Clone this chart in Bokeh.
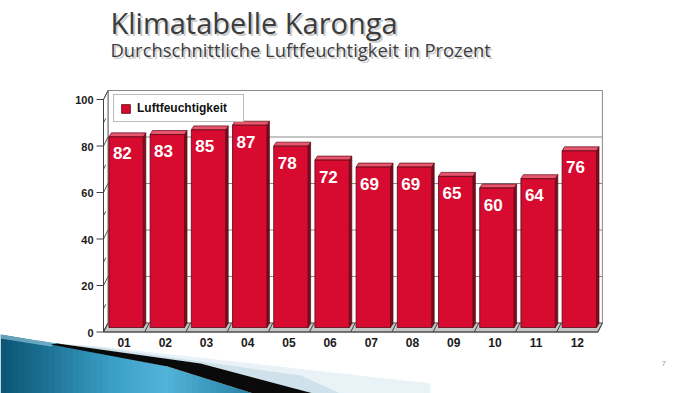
from bokeh.plotting import figure
from bokeh.models import Range1d, Label, Legend, LegendItem
from bokeh.embed import file_html
from bokeh.resources import INLINE
from bokeh.core.properties import value

# ---------------- data ----------------
months = ["01", "02", "03", "04", "05", "06", "07", "08", "09", "10", "11", "12"]
humidity = [82, 83, 85, 87, 78, 72, 69, 69, 65, 60, 64, 76]
y_ticks = [0, 20, 40, 60, 80, 100]
y_minor = [10, 30, 50, 70, 90]
title_text = "Klimatabelle Karonga"
subtitle_text = "Durchschnittliche Luftfeuchtigkeit in Prozent"
series_name = "Luftfeuchtigkeit"
page_number = "7"

# ---------------- layout / style ----------------
W, H = 699, 393
PX_X = 41.2      # pixels per category
PX_Y = 2.325     # pixels per percent
ORIGIN_X = 103.0 # px of category edge 0
ORIGIN_Y = 331.5 # px (from top) of value 0

def dx(px):
    return px / PX_X

def dy(px):
    return px / PX_Y

def pg(x, y):
    """page pixel -> data coordinates (for decorations only)"""
    return ((x - ORIGIN_X) / PX_X, (ORIGIN_Y - y) / PX_Y)

DEPTH_X, DEPTH_Y = dx(4.5), dy(9)          # full 3D depth
BAR_OFF_X, BAR_OFF_Y = dx(2), dy(4.5)      # bar front plane offset
BAR_DX, BAR_DY = dx(2.5), dy(4)            # bar depth
BAR_W = 0.835

RED = "#d70a30"
RED_TOP = "#e8566e"
RED_SIDE = "#7c0c1e"
EDGE = "#5a0814"
WALL = "#8a8a8a"
FONT = "Liberation Sans"

p = figure(width=W, height=H, output_backend="svg", toolbar_location=None,
           x_range=Range1d(-ORIGIN_X / PX_X, (W - ORIGIN_X) / PX_X),
           y_range=Range1d(-(H - ORIGIN_Y) / PX_Y, ORIGIN_Y / PX_Y),
           x_axis_location=None, y_axis_location=None,
           min_border=0, background_fill_color="white", border_fill_color="white")
p.grid.visible = False
p.outline_line_color = None

n = len(months)

# ---------------- decorative swoosh (bottom-left) ----------------
def poly(points):
    xs, ys = zip(*[pg(*pt) for pt in points])
    return list(xs), list(ys)

def interp(x, pts):
    for (x0, y0), (x1, y1) in zip(pts[:-1], pts[1:]):
        if x0 <= x <= x1:
            return y0 + (y1 - y0) * (x - x0) / (x1 - x0)
    return pts[-1][1]

def mix(c0, c1, t):
    a = [int(c0[i:i + 2], 16) for i in (1, 3, 5)]
    b = [int(c1[i:i + 2], 16) for i in (1, 3, 5)]
    return "#%02x%02x%02x" % tuple(round(u + (v - u) * t) for u, v in zip(a, b))

# pale wedge above the black stripe
for pts, col in [
    ([(57, 343), (100, 346), (430, 383), (430, 393), (313, 393), (200, 363)], "#e9f2f6"),
    ([(57, 343), (100, 347), (300, 375), (340, 393), (313, 393), (200, 363)], "#cfe2eb"),
]:
    xs, ys = poly(pts)
    p.patch(xs, ys, fill_color=col, line_color=None)

# blue area, drawn as thin vertical strips to imitate the gradient
blue_top = [(0, 334), (30, 339), (57, 343), (167, 366), (253, 393)]
stops = [(0, "#0b5573"), (40, "#1a6d90"), (110, "#3a9ec5"), (165, "#52b3d8"), (253, "#2680a6")]
step = 6
xa = 0
while xa < 253:
    xb = min(xa + step, 253)
    xm = (xa + xb) / 2
    for (s0, c0), (s1, c1) in zip(stops[:-1], stops[1:]):
        if s0 <= xm <= s1:
            col = mix(c0, c1, (xm - s0) / (s1 - s0))
    xe = min(xb + 0.6, 253)
    xs, ys = poly([(xa, interp(xa, blue_top)), (xe, interp(xe, blue_top)), (xe, 393), (xa, 393)])
    p.patch(xs, ys, fill_color=col, line_color=None)
    xa = xb
# light rim at the top of the blue area
xs, ys = poly([(0, 334), (30, 339), (57, 343), (50, 346), (0, 338)])
p.patch(xs, ys, fill_color="#9ed1e4", fill_alpha=0.6, line_color=None)
# black stripe
xs, ys = poly([(50, 344), (57, 343), (200, 363), (313, 393), (253, 393), (167, 366)])
p.patch(xs, ys, fill_color="#0a0a0a", line_color=None)

# ---------------- 3D frame ----------------
p.quad(left=[DEPTH_X], right=[n + DEPTH_X], bottom=[DEPTH_Y], top=[100 + DEPTH_Y],
       fill_color="white", line_color=WALL, line_width=1)
gl = [t for t in y_ticks if 0 < t < 100]
p.segment(x0=[DEPTH_X] * len(gl), x1=[n + DEPTH_X] * len(gl),
          y0=[t + DEPTH_Y for t in gl], y1=[t + DEPTH_Y for t in gl],
          line_color=WALL, line_width=1)
p.patch([0, DEPTH_X, DEPTH_X, 0], [0, DEPTH_Y, 100 + DEPTH_Y, 100],
        fill_color="white", line_color="#6a6a6a", line_width=1)
p.segment(x0=[0] * len(y_ticks), x1=[DEPTH_X] * len(y_ticks),
          y0=y_ticks, y1=[t + DEPTH_Y for t in y_ticks], line_color="#555555", line_width=1)
p.segment(x0=[0] * len(y_minor), x1=[DEPTH_X * 0.5] * len(y_minor),
          y0=y_minor, y1=[t + DEPTH_Y * 0.5 for t in y_minor], line_color="#555555", line_width=1)
p.patch([0, n, n + DEPTH_X, DEPTH_X], [0, 0, DEPTH_Y, DEPTH_Y],
        fill_color="#c4c4c4", line_color="#6a6a6a", line_width=1)
ks = list(range(n + 1))
p.segment(x0=ks, x1=[k + DEPTH_X for k in ks], y0=[0] * len(ks), y1=[DEPTH_Y] * len(ks),
          line_color="#3f4a3a", line_width=1)

# ---------------- bars ----------------
lefts = [i + (1 - BAR_W) / 2 + BAR_OFF_X for i in range(n)]
rights = [l + BAR_W for l in lefts]
bottoms = [BAR_OFF_Y] * n
tops = [v + BAR_OFF_Y for v in humidity]

side_xs = [[r, r + BAR_DX, r + BAR_DX, r] for r in rights]
side_ys = [[b, b + BAR_DY, t + BAR_DY, t] for b, t in zip(bottoms, tops)]
p.patches(side_xs, side_ys, fill_color=RED_SIDE, line_color=EDGE, line_width=0.7)
top_xs = [[l, r, r + BAR_DX, l + BAR_DX] for l, r in zip(lefts, rights)]
top_ys = [[t, t, t + BAR_DY, t + BAR_DY] for t in tops]
p.patches(top_xs, top_ys, fill_color=RED_TOP, line_color=EDGE, line_width=0.7)
front = p.quad(left=lefts, right=rights, bottom=bottoms, top=tops,
               fill_color=RED, line_color=EDGE, line_width=0.8)

p.text(x=[l + dx(4) for l in lefts], y=[t - dy(16.5) for t in tops],
       text=[str(v) for v in humidity], text_color="white",
       text_font=value(FONT), text_font_style="bold", text_font_size="17px",
       text_align="left", text_baseline="alphabetic")

# ---------------- axes (drawn through the data scales) ----------------
p.segment(x0=[0], x1=[0], y0=[0], y1=[100], line_color="#404040", line_width=1)
p.segment(x0=[0], x1=[n], y0=[0], y1=[0], line_color="#404040", line_width=1)
p.segment(x0=[-dx(7)] * len(y_ticks), x1=[0] * len(y_ticks), y0=y_ticks, y1=y_ticks,
          line_color="#404040", line_width=1)
p.text(x=[-dx(10)] * len(y_ticks), y=[t - dy(0.5) for t in y_ticks],
       text=[str(t) for t in y_ticks], text_color="#1a1a1a",
       text_font=value(FONT), text_font_style="bold", text_font_size="11px",
       text_align="right", text_baseline="alphabetic")
p.text(x=[i + 0.5 for i in range(n)], y=[-dy(10.5)] * n, text=months, text_color="#1a1a1a",
       text_font=value(FONT), text_font_style="bold", text_font_size="12px",
       text_align="center", text_baseline="alphabetic")

# ---------------- legend ----------------
legend = Legend(items=[LegendItem(label=series_name, renderers=[front])],
                location=(113, H - 122), padding=6, margin=0, spacing=0,
                glyph_width=11, glyph_height=11, label_height=11, label_width=100,
                label_standoff=6,
                label_text_font=FONT, label_text_font_style="bold",
                label_text_font_size="12px", label_text_color="#111111",
                border_line_color="#7a7a7a", border_line_width=1,
                background_fill_color="white", background_fill_alpha=1.0)
p.add_layout(legend)

# ---------------- titles ----------------
for txt, x, y, size in [(title_text, 110, H - 22, "29px"), (subtitle_text, 110, H - 49, "18.4px")]:
    p.add_layout(Label(x=x + 2, y=y - 2, x_units="screen", y_units="screen", text=txt,
                       text_font="Open Sans", text_font_size=size, text_color="#9a9a9a",
                       text_alpha=0.5, text_baseline="alphabetic"))
    p.add_layout(Label(x=x, y=y, x_units="screen", y_units="screen", text=txt,
                       text_font="Open Sans", text_font_size=size, text_color="#3c3c3c",
                       text_baseline="alphabetic"))

p.add_layout(Label(x=661, y=H - 363, x_units="screen", y_units="screen", text=page_number,
                   text_font=FONT, text_font_size="8px", text_color="#a0a0a0",
                   text_baseline="alphabetic"))

open("out.html", "w").write(file_html(p, INLINE))
